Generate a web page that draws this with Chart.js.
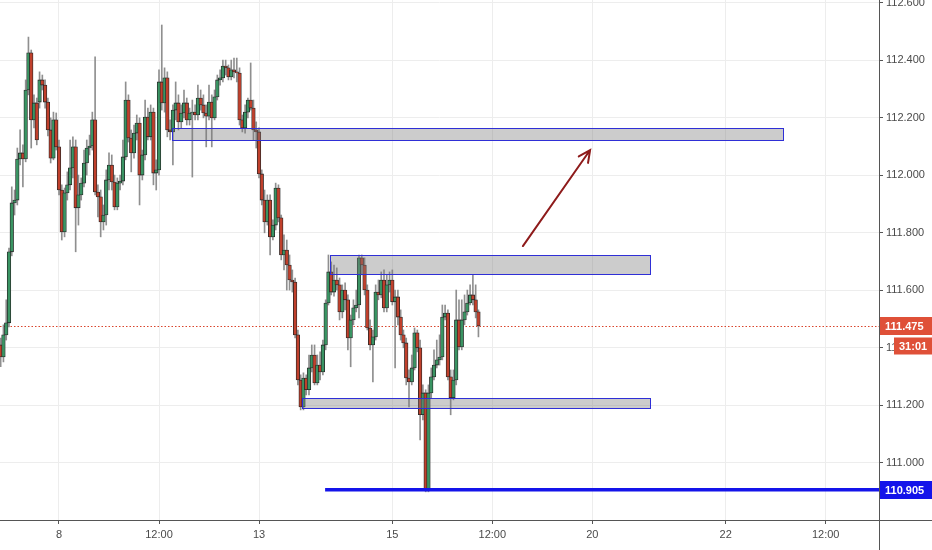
<!DOCTYPE html>
<html>
<head>
<meta charset="utf-8">
<script src="https://cdn.jsdelivr.net/npm/chart.js@4.4.0/dist/chart.umd.min.js"></script>
<style>
  html, body { margin: 0; padding: 0; background: #fff; }
  #wrap { width: 932px; height: 550px; }
</style>
</head>
<body>
<div id="wrap"><canvas id="priceChart" width="932" height="550"></canvas></div>
<script>
// hourly candles; x = trading hours counted from the 8th 00:00 (weekend removed)
const firstHour = -21;

const openP = [
  111.409, 111.367, 111.444, 111.486, 111.733, 111.903, 111.913, 112.056, 112.077, 112.056,
  112.296, 112.425, 112.192, 112.251, 112.254, 112.331, 112.313, 112.254, 112.157, 112.059,
  112.192, 112.098, 111.948, 111.802, 111.938, 111.966, 112.025, 112.098, 111.886, 111.931,
  111.972, 112.042, 112.094, 112.101, 112.192, 111.941, 111.924, 111.837, 111.861, 111.983,
  112.035, 111.976, 111.889, 111.972, 111.979, 112.063, 112.261, 112.129, 112.077, 112.146,
  112.181, 112.000, 112.070, 112.202, 112.133, 112.219, 112.007, 112.018, 112.324, 112.251,
  112.338, 112.157, 112.150, 112.226, 112.251, 112.185, 112.216, 112.251, 112.192, 112.216,
  112.219, 112.209, 112.268, 112.244, 112.216, 112.205, 112.254, 112.199, 112.272, 112.331,
  112.338, 112.379, 112.373, 112.341, 112.366, 112.359, 112.355, 112.192, 112.164, 112.219,
  112.261, 112.233, 112.157, 112.150, 112.004, 111.913, 111.837, 111.913, 111.785, 111.826,
  111.955, 111.851, 111.722, 111.739, 111.687, 111.635, 111.628, 111.444, 111.287, 111.193,
  111.294, 111.253, 111.329, 111.374, 111.277, 111.339, 111.315, 111.409, 111.555, 111.663,
  111.593, 111.635, 111.618, 111.524, 111.600, 111.566, 111.433, 111.496, 111.538, 111.548,
  111.712, 111.687, 111.600, 111.468, 111.409, 111.437, 111.593, 111.583, 111.635, 111.538,
  111.618, 111.635, 111.559, 111.576, 111.506, 111.444, 111.416, 111.294, 111.280, 111.329,
  111.451, 111.399, 111.166, 111.242, 110.905, 111.242, 111.298, 111.339, 111.357, 111.367,
  111.506, 111.520, 111.298, 111.225, 111.287, 111.496, 111.402, 111.496, 111.524, 111.555,
  111.583, 111.566, 111.524
];
const highP = [
  111.433, 111.479, 111.566, 111.746, 111.959, 111.948, 112.094, 112.157, 112.105, 112.331,
  112.480, 112.435, 112.279, 112.268, 112.359, 112.348, 112.331, 112.268, 112.199, 112.219,
  112.216, 112.122, 111.966, 111.955, 112.011, 112.122, 112.133, 112.122, 112.000, 111.990,
  112.087, 112.122, 112.139, 112.219, 112.411, 111.966, 111.948, 111.896, 112.018, 112.077,
  112.070, 112.000, 111.990, 112.000, 112.122, 112.324, 112.279, 112.157, 112.174, 112.209,
  112.199, 112.087, 112.261, 112.233, 112.244, 112.233, 112.053, 112.366, 112.522, 112.373,
  112.359, 112.192, 112.244, 112.324, 112.279, 112.244, 112.296, 112.268, 112.233, 112.261,
  112.244, 112.313, 112.296, 112.279, 112.244, 112.313, 112.279, 112.296, 112.348, 112.366,
  112.400, 112.400, 112.383, 112.400, 112.407, 112.407, 112.373, 112.209, 112.244, 112.268,
  112.390, 112.261, 112.185, 112.164, 112.018, 111.948, 111.931, 111.931, 111.844, 111.972,
  111.966, 111.861, 111.792, 111.774, 111.722, 111.670, 111.642, 111.461, 111.305, 111.312,
  111.305, 111.374, 111.409, 111.409, 111.374, 111.385, 111.426, 111.566, 111.722, 111.698,
  111.687, 111.677, 111.642, 111.618, 111.625, 111.583, 111.513, 111.566, 111.600, 111.722,
  111.722, 111.712, 111.618, 111.496, 111.461, 111.618, 111.635, 111.663, 111.670, 111.653,
  111.663, 111.670, 111.600, 111.600, 111.531, 111.461, 111.433, 111.322, 111.374, 111.468,
  111.461, 111.426, 111.270, 111.253, 111.270, 111.329, 111.392, 111.426, 111.444, 111.548,
  111.548, 111.531, 111.322, 111.322, 111.600, 111.566, 111.566, 111.583, 111.600, 111.618,
  111.653, 111.618, 111.531
];
const lowP = [
  111.333, 111.350, 111.426, 111.472, 111.719, 111.861, 111.896, 112.035, 111.959, 112.046,
  112.279, 112.094, 112.164, 112.105, 112.233, 112.296, 112.233, 112.136, 112.042, 112.053,
  112.087, 111.931, 111.774, 111.785, 111.913, 111.948, 111.990, 111.733, 111.826, 111.913,
  111.959, 112.000, 112.070, 112.087, 111.931, 111.854, 111.785, 111.809, 111.826, 111.948,
  111.948, 111.879, 111.879, 111.948, 111.966, 112.053, 112.115, 112.011, 112.059, 112.122,
  111.896, 111.983, 112.053, 112.122, 112.122, 111.966, 111.948, 112.000, 112.226, 112.219,
  112.133, 112.122, 112.035, 112.192, 112.157, 112.164, 112.199, 112.174, 112.174, 111.993,
  112.192, 112.192, 112.226, 112.199, 112.098, 112.192, 112.098, 112.192, 112.261, 112.313,
  112.324, 112.348, 112.331, 112.331, 112.338, 112.324, 112.174, 112.150, 112.146, 112.199,
  112.226, 112.122, 112.094, 111.990, 111.896, 111.799, 111.826, 111.722, 111.774, 111.809,
  111.837, 111.705, 111.670, 111.600, 111.600, 111.593, 111.433, 111.270, 111.183, 111.183,
  111.235, 111.235, 111.315, 111.270, 111.270, 111.287, 111.305, 111.392, 111.548, 111.583,
  111.579, 111.600, 111.496, 111.503, 111.531, 111.392, 111.333, 111.479, 111.524, 111.503,
  111.653, 111.583, 111.461, 111.392, 111.280, 111.426, 111.566, 111.573, 111.524, 111.524,
  111.593, 111.548, 111.329, 111.479, 111.426, 111.399, 111.270, 111.193, 111.270, 111.322,
  111.385, 111.079, 111.148, 110.898, 110.898, 111.225, 111.287, 111.329, 111.339, 111.357,
  111.496, 111.287, 111.166, 111.218, 111.270, 111.392, 111.392, 111.479, 111.513, 111.548,
  111.548, 111.503, 111.437
];
const closeP = [
  111.367, 111.444, 111.486, 111.733, 111.903, 111.913, 112.056, 112.077, 112.056, 112.296,
  112.425, 112.192, 112.251, 112.122, 112.331, 112.313, 112.254, 112.157, 112.059, 112.192,
  112.098, 111.948, 111.802, 111.938, 111.966, 112.025, 112.098, 111.886, 111.931, 111.972,
  112.042, 112.094, 112.101, 112.192, 111.941, 111.924, 111.837, 111.861, 111.983, 112.035,
  111.976, 111.889, 111.972, 111.979, 112.063, 112.261, 112.129, 112.077, 112.146, 112.181,
  112.000, 112.070, 112.202, 112.133, 112.219, 112.007, 112.018, 112.324, 112.251, 112.338,
  112.157, 112.150, 112.226, 112.251, 112.185, 112.216, 112.251, 112.192, 112.216, 112.219,
  112.209, 112.268, 112.244, 112.216, 112.205, 112.254, 112.199, 112.272, 112.331, 112.338,
  112.379, 112.373, 112.341, 112.366, 112.359, 112.355, 112.192, 112.164, 112.219, 112.261,
  112.233, 112.157, 112.150, 112.004, 111.913, 111.837, 111.913, 111.785, 111.826, 111.955,
  111.851, 111.722, 111.739, 111.687, 111.635, 111.628, 111.444, 111.287, 111.193, 111.294,
  111.253, 111.329, 111.374, 111.277, 111.339, 111.315, 111.409, 111.555, 111.663, 111.593,
  111.635, 111.618, 111.524, 111.600, 111.566, 111.433, 111.496, 111.538, 111.548, 111.712,
  111.687, 111.600, 111.468, 111.409, 111.437, 111.593, 111.583, 111.635, 111.538, 111.618,
  111.635, 111.559, 111.576, 111.506, 111.444, 111.416, 111.294, 111.280, 111.329, 111.451,
  111.399, 111.166, 111.242, 110.905, 111.242, 111.298, 111.339, 111.357, 111.367, 111.506,
  111.520, 111.298, 111.225, 111.287, 111.496, 111.402, 111.496, 111.524, 111.555, 111.583,
  111.566, 111.524, 111.475
];

const xTickHours = [0, 36, 72, 120, 156, 192, 240, 276];
const xTickLabels = ['8', '12:00', '13', '15', '12:00', '20', '22', '12:00'];
const yTicks = [111.0, 111.2, 111.4, 111.6, 111.8, 112.0, 112.2, 112.4, 112.6];

// drawn boxes (hour span, price span)
const zoneFrom = [40.7, 97.6, 87.5];
const zoneTo = [260.6, 212.7, 212.7];
const zoneTop = [112.164, 111.722, 111.225];
const zoneBottom = [112.122, 111.656, 111.190];

const supportPrice = 110.905;
const supportFrom = 95.8;
const arrowFrom = [167.0, 111.753];
const arrowTo = [191.2, 112.087];
const lastPrice = 111.475;
const countdown = '31:01';

const font = '"Liberation Sans", Arial, sans-serif';
const upFill = '#3a9463';
const downFill = '#c0402c';

const hours = openP.map((_, k) => firstHour + k);
const wickData = hours.map((h, k) => ({ x: h, y: [lowP[k], highP[k]] }));
const bodyData = hours.map((h, k) => ({ x: h, y: [openP[k], closeP[k]] }));

// the chart area runs to the very top and left edges, as in the original
const noEdgePadding = s => {
    s.paddingTop = 0;
    s.paddingBottom = 0;
    s.paddingLeft = 0;
    s.paddingRight = 0;
};

const overlay = {
    id: 'overlay',
    beforeDatasetsDraw(chart) {
        const { ctx, chartArea: a, scales: { y } } = chart;
        const py = Math.round(y.getPixelForValue(lastPrice)) + 0.5;
        ctx.save();
        ctx.strokeStyle = '#d9452c';
        ctx.lineWidth = 1;
        ctx.setLineDash([1.5, 2]);
        ctx.beginPath();
        ctx.moveTo(a.left, py);
        ctx.lineTo(a.right, py);
        ctx.stroke();
        ctx.restore();
    },
    afterDatasetsDraw(chart) {
        const { ctx, chartArea: a, scales: { x, y } } = chart;
        ctx.save();
        ctx.beginPath();
        ctx.rect(a.left, a.top, a.right - a.left, a.bottom - a.top);
        ctx.clip();

        zoneFrom.forEach((f, k) => {
            const x0 = Math.round(x.getPixelForValue(f)) + 0.5;
            const x1 = Math.round(x.getPixelForValue(zoneTo[k])) + 0.5;
            const y0 = Math.round(y.getPixelForValue(zoneTop[k])) + 0.5;
            const y1 = Math.round(y.getPixelForValue(zoneBottom[k])) + 0.5;
            ctx.fillStyle = 'rgba(120,120,120,0.38)';
            ctx.fillRect(x0, y0, x1 - x0, y1 - y0);
            ctx.strokeStyle = '#2f2fd6';
            ctx.lineWidth = 1;
            ctx.strokeRect(x0, y0, x1 - x0, y1 - y0);
        });

        const sy = y.getPixelForValue(supportPrice);
        ctx.strokeStyle = '#1414ea';
        ctx.lineWidth = 3.5;
        ctx.beginPath();
        ctx.moveTo(x.getPixelForValue(supportFrom), sy);
        ctx.lineTo(a.right, sy);
        ctx.stroke();

        const ax0 = x.getPixelForValue(arrowFrom[0]), ay0 = y.getPixelForValue(arrowFrom[1]);
        const ax1 = x.getPixelForValue(arrowTo[0]), ay1 = y.getPixelForValue(arrowTo[1]);
        const ang = Math.atan2(ay1 - ay0, ax1 - ax0);
        ctx.strokeStyle = '#8e1b1b';
        ctx.lineWidth = 2;
        ctx.lineCap = 'round';
        ctx.beginPath();
        ctx.moveTo(ax0, ay0);
        ctx.lineTo(ax1, ay1);
        ctx.moveTo(ax1 - 13 * Math.cos(ang - 0.45), ay1 - 13 * Math.sin(ang - 0.45));
        ctx.lineTo(ax1, ay1);
        ctx.lineTo(ax1 - 13 * Math.cos(ang + 0.45), ay1 - 13 * Math.sin(ang + 0.45));
        ctx.stroke();
        ctx.restore();
    },
    afterDraw(chart) {
        const { ctx, chartArea: a, scales: { y } } = chart;
        ctx.save();
        ctx.strokeStyle = '#555';
        ctx.lineWidth = 1;
        ctx.beginPath();
        ctx.moveTo(0, a.bottom + 0.5);
        ctx.lineTo(chart.width, a.bottom + 0.5);
        ctx.moveTo(a.right + 0.5, 0);
        ctx.lineTo(a.right + 0.5, chart.height);
        ctx.stroke();

        const tag = (value, text, fill, x0, h) => {
            const cy = Math.round(value);
            ctx.fillStyle = fill;
            ctx.fillRect(x0, cy - h / 2, chart.width - x0, h);
            ctx.fillStyle = '#fff';
            ctx.font = 'bold 11px ' + font;
            ctx.textBaseline = 'middle';
            ctx.textAlign = 'left';
            ctx.fillText(text, x0 + 5, cy + 0.5);
        };
        const lp = y.getPixelForValue(lastPrice);
        tag(lp, lastPrice.toFixed(3), '#df5038', a.right + 1, 18);
        tag(lp + 20, countdown, '#df5038', a.right + 15, 17);
        tag(y.getPixelForValue(supportPrice), supportPrice.toFixed(3), '#1414ea', a.right + 1, 18);
        ctx.restore();
    }
};

new Chart(document.getElementById('priceChart'), {
    type: 'bar',
    data: {
        datasets: [
            {
                data: bodyData,
                backgroundColor: c => closeP[c.dataIndex] >= openP[c.dataIndex] ? upFill : downFill,
                borderColor: '#262626',
                borderWidth: 0.8,
                borderSkipped: false,
                barThickness: 3.6,
                minBarLength: 1,
                grouped: false,
                order: 1
            },
            {
                data: wickData,
                backgroundColor: '#8f8f8f',
                barThickness: 1,
                grouped: false,
                order: 2
            }
        ]
    },
    options: {
        responsive: false,
        animation: false,
        events: [],
        layout: { padding: 0 },
        plugins: { legend: { display: false }, tooltip: { enabled: false } },
        scales: {
            x: {
                type: 'linear',
                offset: false,
                min: -21.24,
                max: 295.2,
                afterBuildTicks: s => { s.ticks = xTickHours.map(v => ({ value: v })); },
                afterFit: s => { s.height = 30; noEdgePadding(s); },
                grid: { color: '#ededed', tickLength: 4, tickColor: '#555', offset: false },
                border: { display: false },
                ticks: {
                    autoSkip: false,
                    maxRotation: 0,
                    padding: 4,
                    color: '#4a4a4a',
                    font: { family: font, size: 11 },
                    callback: (v, i) => xTickLabels[i]
                }
            },
            y: {
                position: 'right',
                min: 110.8,
                max: 112.609,
                afterBuildTicks: s => { s.ticks = yTicks.map(v => ({ value: v })); },
                afterFit: s => { s.width = 53; noEdgePadding(s); },
                grid: { color: '#ededed', tickLength: 4, tickColor: '#555' },
                border: { display: false },
                ticks: {
                    padding: 3,
                    color: '#4a4a4a',
                    font: { family: font, size: 11 },
                    callback: v => Number(v).toFixed(3)
                }
            }
        }
    },
    plugins: [overlay]
});
</script>
</body>
</html>
